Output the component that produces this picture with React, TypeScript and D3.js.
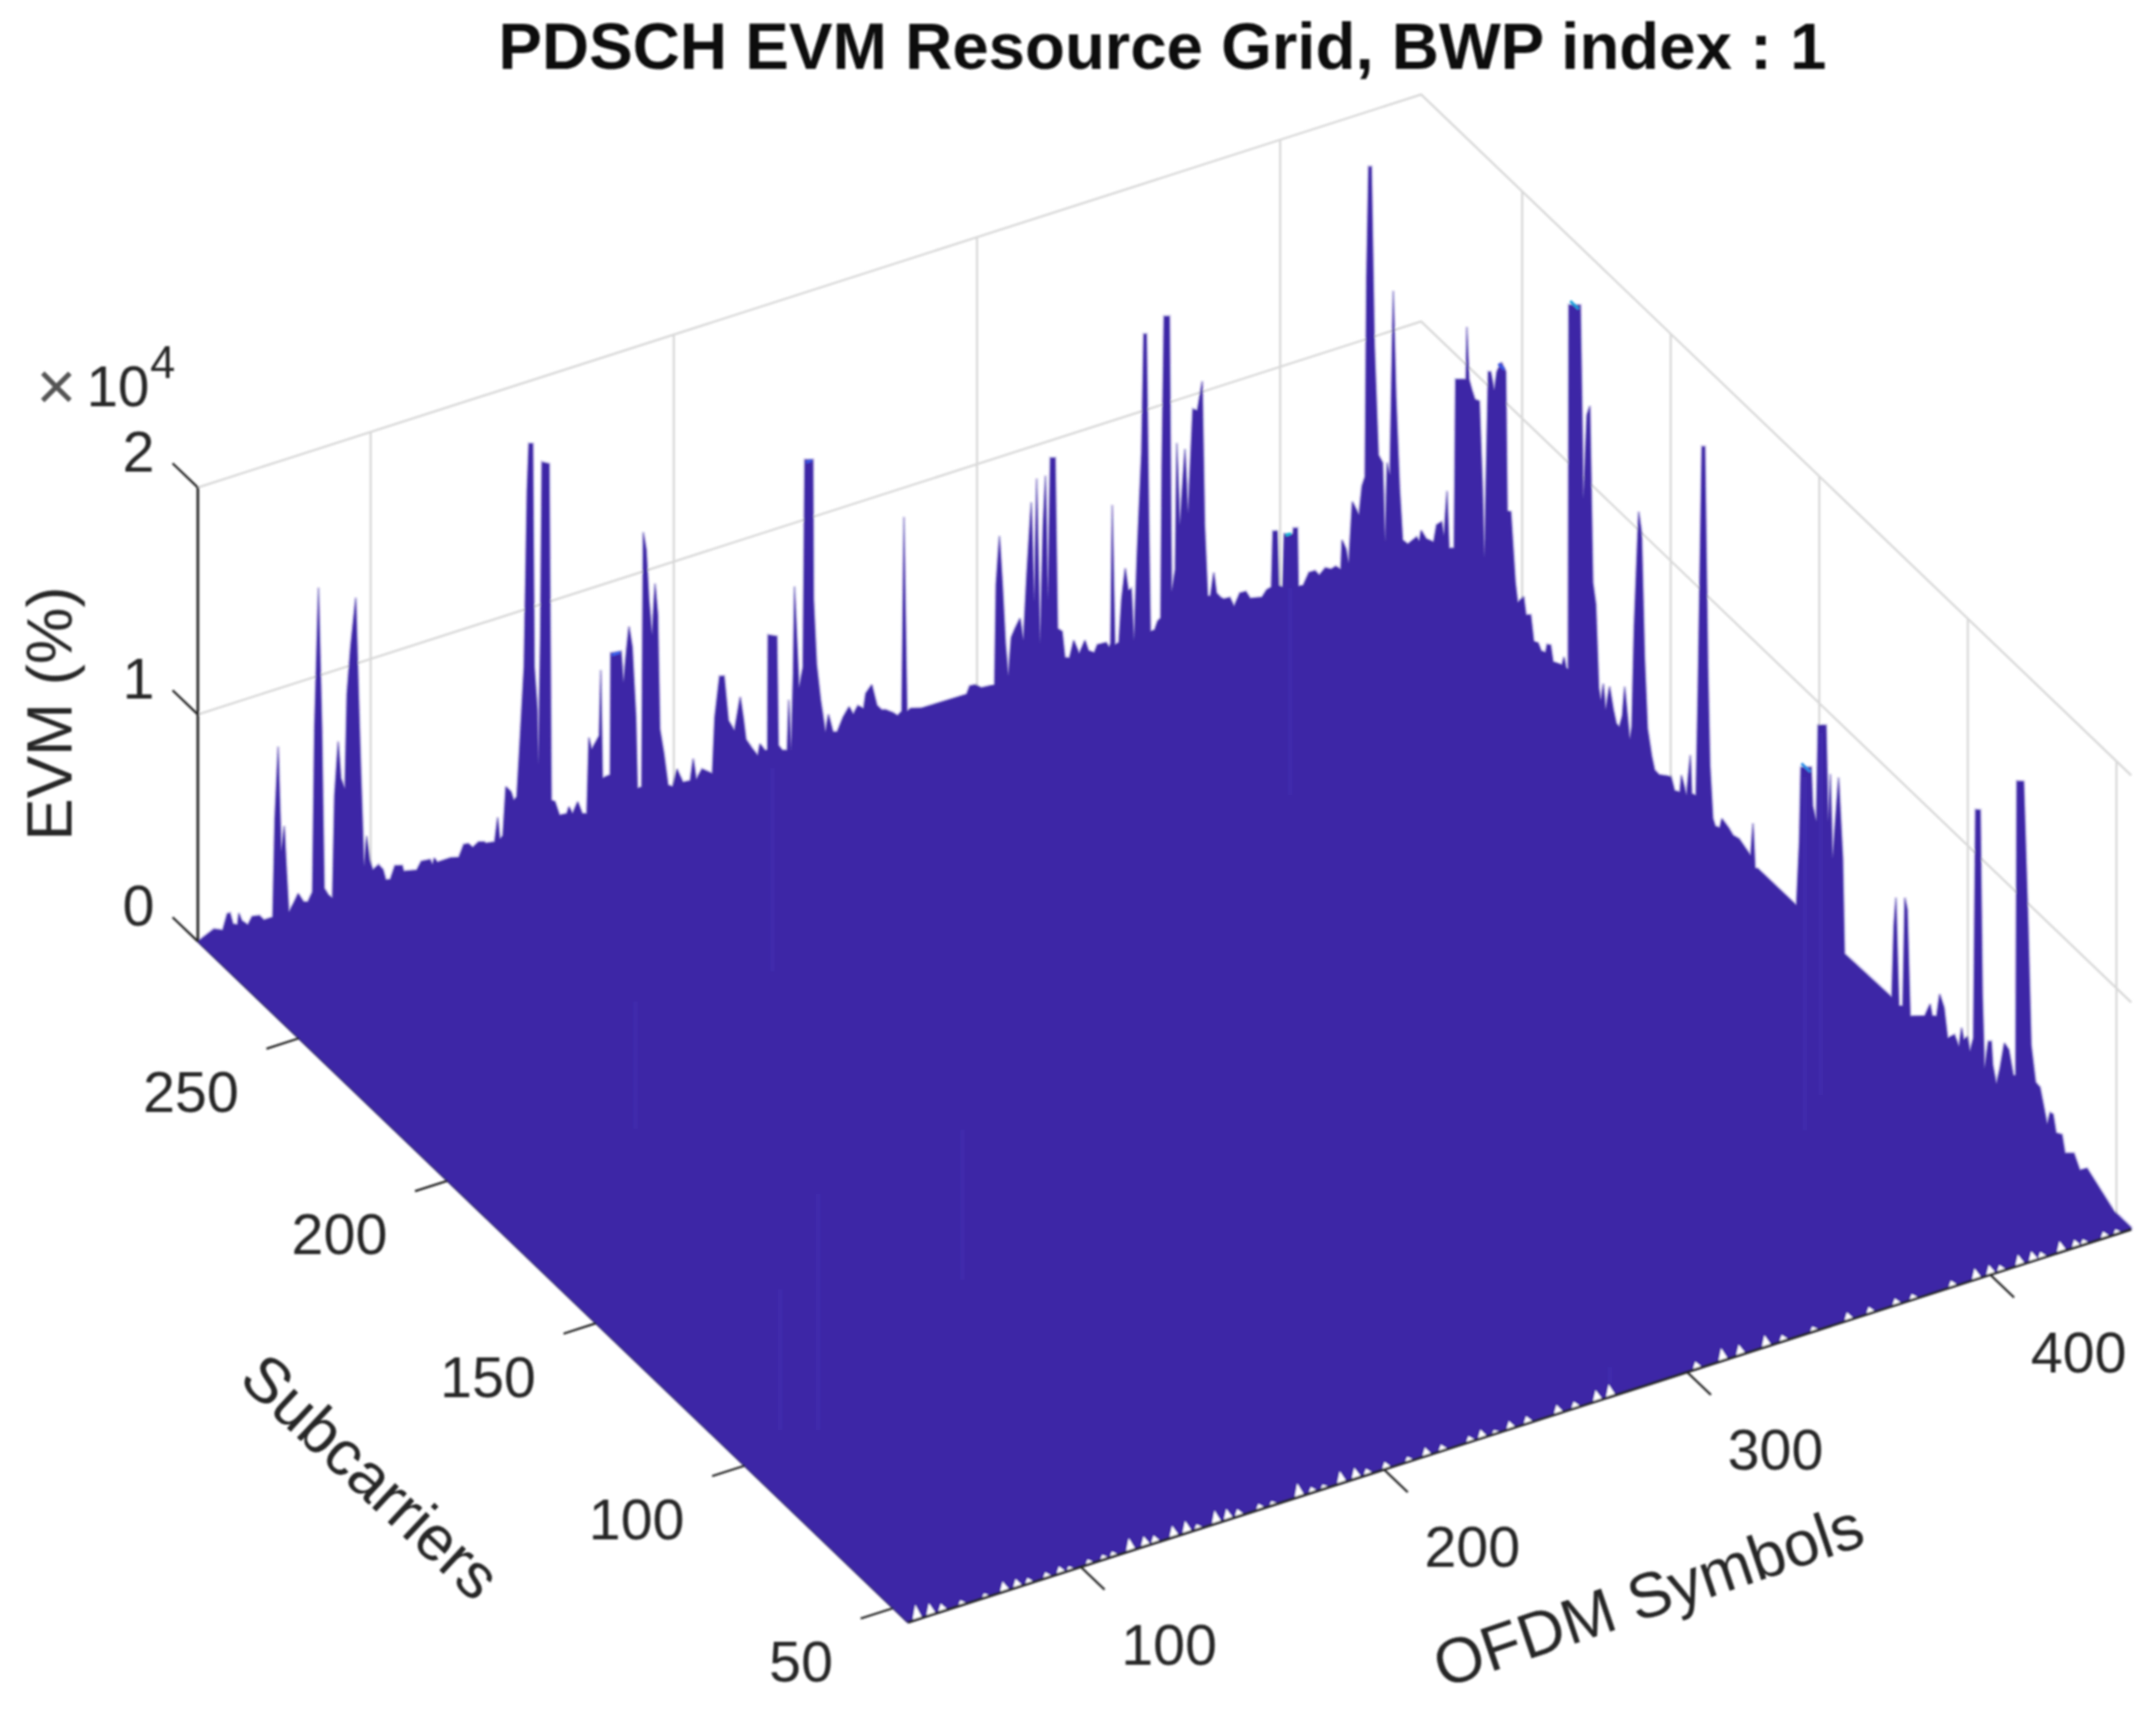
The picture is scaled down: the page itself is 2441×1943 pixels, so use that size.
import React from 'react';
import * as d3 from 'd3';

const width = 2441;
const height = 1943;

// EVM along the back-left edge of the surface (x10^4 %), by OFDM symbol
const ridgeSymbols = [
  43.2, 46.8, 48.3, 51.2, 52.7, 53.6, 54.6, 56.1, 56.5, 57.5, 59.5, 60.9, 63.3, 64.8, 67.7, 68.4, 69.5, 70.5, 71.5, 72.3,
  73, 74.5, 76.1, 77.9, 79.3, 80.8, 81.5, 82.8, 83.9, 84.7, 86.1, 87.4, 88.1, 89.3, 90.2, 91.5, 92.2, 93.4, 95.1, 96,
  96.8, 97.8, 98.7, 99.7, 100.7, 102.6, 104.1, 105, 106.5, 108, 110.4, 110.9, 115.2, 116.7, 119.6, 120.4, 121, 122, 126.4, 129.1,
  130.7, 132.2, 133.7, 135.6, 137.5, 138, 140.9, 141.9, 142.6, 143.6, 144.6, 146.3, 147.2, 148.2, 149, 150.6, 151.6, 152.2, 153.5, 154,
  155, 155.3, 156, 156.5, 158.9, 159.6, 160.8, 162.3, 164.7, 165.4, 166.6, 168.3, 169.8, 171.3, 172, 172.9, 175.4, 175.9, 176.5, 179,
  179.2, 182.6, 183.4, 184.4, 185.2, 186.3, 187.5, 188, 189.4, 189.9, 190.9, 191.8, 192.8, 193.8, 194.7, 195.4, 196.7, 198.1, 199.6, 201,
  203, 205.4, 206.4, 207.4, 209.3, 212.7, 213.5, 215.1, 216.6, 218, 220, 221.9, 222.9, 223.8, 225.8, 227.7, 228.4, 230.1, 230.9, 231.1,
  234, 234.5, 235.8, 237.4, 237.9, 238.7, 239.4, 239.8, 241.3, 242.6, 243.2, 245.9, 246.1, 247.1, 248.4, 250, 251, 252.5, 253.9, 255.8,
  257.8, 259.2, 260.7, 262.6, 263.3, 265.3, 267, 268.5, 269.9, 272.3, 273.8, 275.2, 275.9, 276.9, 278.2, 281.6, 296.6, 297.6, 299.5, 301.4,
  305.8, 306.3, 307.4, 308.4, 309.4, 310.3, 311.3, 312.5, 314.2, 315.3, 316.4, 317.9, 318.9, 319.7, 320.8, 321.8, 322.6, 323.4, 324.2, 325.8,
  326.6, 328.1, 329, 330.5, 331.9, 333.7, 335.6, 336.8, 338.7, 339.7, 342.6, 343.6, 344.1, 344.6, 345.5, 346.8, 347.7, 348.9, 349.9, 350.9,
  351.8, 352.8, 354.3, 355, 355.9, 356.7, 357.2, 358.6, 359.6, 360.6, 361, 361.7, 363.5, 364, 364.2, 365.4, 365.9, 366.9, 368.6, 369.6,
  371.2, 372.7, 374.3, 375.1, 376.1, 377, 378.1, 379, 380.4, 381.4, 383.4, 384.8, 386.7, 388.7, 390.1, 394, 395.5, 397.1, 397.6, 399.1,
  399.6, 400.8, 401.3, 404.2, 404.4, 405.7, 406, 407.6, 409.5, 411.5, 412.9, 414.9, 416.8, 418.3, 420, 420.4, 421.7, 422.6, 423.8, 426,
  427, 428, 428.5, 429.2, 430.1, 431.1, 432.4, 433.8, 434.6, 435.3, 436.2, 437.3, 438.2, 439.4, 440.4, 442.1, 445, 445.9, 446.5,
];
const ridgeEvm = [
  0.001, 0.023, 0.032, 0.014, 0.08, 0.08, 0.027, 0.018, 0.067, 0.029, 0.002, 0.033, 0.027, 0.001, 0.001, 0.43, 0.745, 0.279, 0.387, 0.175,
  0.001, 0.031, 0.069, 0.024, 0.018, 0.056, 0.776, 1.388, 0.765, 0.055, 0.019, 0.001, 0.45, 0.683, 0.515, 0.465, 0.879, 1.082, 1.291, 0.862,
  0.502, 0.096, 0.226, 0.117, 0.068, 0.082, 0.054, 0.005, 0.001, 0.055, 0.045, 0.018, 0.004, 0.037, 0.032, 0.007, 0.033, 0.01, 0.011, 0.001,
  0.051, 0.048, 0.025, 0.041, 0.033, 0.025, 0.019, 0.123, 0.024, 0.034, 0.246, 0.216, 0.175, 0.186, 0.368, 0.749, 1.519, 1.725, 1.719, 0.734,
  0.536, 0.297, 0.845, 1.625, 1.607, 0.122, 0.11, 0.044, 0.041, 0.068, 0.033, 0.078, 0.019, 0.013, 0.345, 0.289, 0.338, 0.626, 0.147, 0.151,
  0.686, 0.679, 0.539, 0.678, 0.778, 0.682, 0.367, 0.053, 0.053, 1.173, 1.091, 0.867, 0.707, 0.93, 0.789, 0.281, 0.171, 0.023, 0.01, 0.082,
  0.015, 0.011, 0.104, 0.009, 0.046, 0.012, 0.255, 0.43, 0.424, 0.223, 0.169, 0.31, 0.215, 0.114, 0.067, 0.026, 0.075, 0.039, 0.038, 0.543,
  0.525, 0.042, 0.015, 0.008, 0.229, 0.005, 0.339, 0.72, 0.266, 0.352, 1.263, 1.252, 0.635, 0.345, 0.184, 0.034, 0.108, 0.024, 0.018, 0.074,
  0.112, 0.073, 0.105, 0.084, 0.147, 0.177, 0.079, 0.053, 0.047, 0.024, 0.005, 0.018, 0.871, 0.011, 0.018, 0.004, 0.001, 0.033, 0.031, 0.009,
  0.004, 0.443, 0.652, 0.433, 0.169, 0.023, 0.188, 0.221, 0.26, 0.158, 0.438, 0.756, 0.311, 0.852, 0.121, 0.636, 0.853, 0.304, 0.924, 0.917,
  0.161, 0.142, 0.024, 0.015, 0.087, 0.021, 0.071, 0.02, 0.003, 0.034, 0.031, 0.007, 0.022, 0.629, 0.009, 0.013, 0.201, 0.332, 0.23, 0.233,
  0.002, 0.374, 0.821, 1.337, 1.333, 0.487, 0.018, 0.018, 0.053, 0.062, 0.727, 1.386, 1.379, 0.456, 0.163, 0.255, 0.811, 0.444, 0.773, 0.484,
  0.937, 0.925, 1.047, 0.408, 0.093, 0.089, 0.188, 0.093, 0.068, 0.057, 0.055, 0.01, 0.06, 0.058, 0.022, 0.01, 0.036, 0.042, 0.286, 0.28,
  0.038, 0.026, 0.258, 0.245, 0.27, 0.265, 0.007, 0.004, 0.053, 0.052, 0.026, 0.05, 0.036, 0.042, 0.022, 0.15, 0.105, 0.037, 0.304, 0.236,
  0.359, 0.396, 1.267, 1.756, 1.752, 0.956, 0.472, 0.432, 0.081, 0.426, 0.367, 1.175, 0.707, 0.292, 0.063, 0.038, 0.057, 0.035, 0.08,
];

// EVM along the back-right edge of the surface, by subcarrier
const sideSubcarriers = [
  282.3, 279.8, 278.8, 277.1, 276.3, 275.3, 274.6, 272.9, 272.4, 268.9, 268.6, 267.9, 266.9, 265.9, 264.4, 263.4, 262.7, 261.4, 260.6, 259.4,
  258.5, 257, 255.5, 255, 253.8, 252.3, 251.5, 249.5, 248.7, 247.1, 246.1, 244.6, 243.6, 242.1, 241.6, 240.4, 239.6, 236.6, 235.9, 235.2,
  234.5, 234.3, 230.4, 229.4, 228.2, 227.2, 226.2, 225.2, 224.2, 223.5, 222.7, 221.9, 220.6, 219.3, 218.3, 217.3, 216.3, 215.5, 213.8, 213.1,
  212.3, 210.8, 209.8, 208.8, 207.8, 206.4, 205.4, 203.9, 199.9, 198.7, 196.9, 196.4, 194.7, 193.4, 192.9, 191.5, 190.8, 189.5, 188.5, 187.5,
  186.8, 185.8, 185, 183.5, 182.8, 180.5, 179, 177, 173.1, 172.3, 171.6, 170.6, 157.7, 156.7, 156.2, 152.7, 152.2, 151, 150.4, 147.7,
  147, 146.3, 145.5, 143.5, 142.1, 141.5, 125.6, 124.9, 124.2, 123.2, 121.9, 121.2, 120.4, 119.4, 114.5, 112.7, 112, 110.5, 109.5, 108,
  106.8, 104.5, 103, 102.1, 101.4, 100.1, 99.3, 98.1, 97.4, 95.8, 95.1, 94.4, 93.1, 92.1, 91.6, 90.4, 89.2, 87.7, 86.2, 84.7,
  83.9, 83.5, 81.2, 79.7, 78.7, 77.2, 75.7, 74.3, 73.3, 72.3, 71.3, 70.3, 68.3, 67.3, 64.3, 62.3, 59.9, 50.9, 45,
];
const sideEvm = [
  0.064, 0.081, 0.169, 0.204, 0.152, 0.363, 0.119, 0.141, 0.891, 0.935, 1.17, 0.947, 0.912, 0.884, 0.895, 0.546, 0.227, 1.062, 1.072, 1.005,
  1.099, 1.159, 1.137, 0.529, 0.541, 0.249, 0.17, 0.222, 0.15, 0.17, 0.067, 0.078, 0.056, 0.068, 0.109, 0.121, 0.058, 0.082, 0.126, 0.087,
  0.089, 1.697, 1.745, 0.904, 1.288, 1.341, 0.576, 0.491, 0.135, 0.089, 0.174, 0.068, 0.188, 0.102, 0.053, 0.051, 0.112, 0.251, 0.04, 0.104,
  0.557, 1.081, 0.998, 0.464, 0.163, 0.059, 0.01, 0.008, 0.051, 0.004, 0.02, 0.101, 0.033, 0.227, 0.063, 0.074, 0.554, 1.635, 1.647, 0.691,
  0.263, 0.043, 0.019, 0.031, 0.08, 0.068, 0.053, 0.064, 0.039, 0.192, 0.003, 0.012, 0.013, 0.307, 0.64, 0.684, 0.519, 0.467, 0.899, 0.932,
  0.517, 0.735, 0.373, 0.755, 0.415, 0.003, 0.011, 0.332, 0.468, 0.004, 0.019, 0.505, 0.463, 0.006, 0.068, 0.143, 0.1, 0.118, 0.227, 0.186,
  0.067, 0.111, 0.077, 0.172, 0.128, 0.159, 0.102, 0.177, 1.191, 1.21, 0.407, 0.088, 0.224, 0.237, 0.139, 0.071, 0.154, 0.285, 0.274, 0.181,
  0.191, 1.491, 1.519, 0.898, 0.389, 0.244, 0.24, 0.162, 0.108, 0.172, 0.177, 0.108, 0.125, 0.056, 0.093, 0.044, 0.082, 0.008, 0.008,
];

// small lifts of the surface at the front edge (the white teeth above the axis)
const notchSymbols = [
  45.9, 50.4, 54.3, 60.8, 68.6, 74.7, 79, 82.9, 88.8, 93.3, 96.5, 102.8, 107.6, 110.8, 116.3, 121.2, 124.5, 130.6, 134.9, 138.7,
  144.6, 148.5, 152.1, 159.1, 163.4, 171.9, 176.4, 180.3, 185.9, 190.7, 194.6, 200.7, 208.2, 214, 219.3, 228.4, 232.3, 236.8, 241.7, 247.4,
  257.4, 263.1, 270.3, 274.6, 303.2, 311.7, 317.5, 326, 331.7, 341.8, 353.2, 360.4, 369, 374.6, 387.5, 395.3, 400, 403.5, 409.6, 414,
  417, 423.3, 428.2, 431, 437.7, 441.8,
];
const notchEvm = [
  0.058, 0.045, 0.026, 0.013, 0.01, 0.036, 0.029, 0.016, 0.016, 0.023, 0.01, 0.013, 0.013, 0.013, 0.049, 0.036, 0.026, 0.042, 0.045, 0.013,
  0.049, 0.039, 0.023, 0.016, 0.01, 0.052, 0.016, 0.01, 0.045, 0.039, 0.019, 0.023, 0.013, 0.029, 0.019, 0.018, 0.029, 0.008, 0.027, 0.024,
  0.03, 0.02, 0.04, 0.047, 0.024, 0.047, 0.038, 0.043, 0.02, 0.013, 0.027, 0.02, 0.02, 0.016, 0.02, 0.04, 0.035, 0.02, 0.04, 0.035,
  0.02, 0.04, 0.025, 0.015, 0.02, 0.012,
];

// faint lighter streaks inside the surface
const streakSymbols = [70.4, 61, 144.8, 102.9, 278.1, 350.7, 391.4, 404.4, 177.3];
const streakSubcarriers = [103.2, 106.4, 130.5, 197.8, 48.6, 230.3, 98.6, 106.5, 227.6];
const streakEvm = [1.04, 0.62, 0.66, 0.56, 0.07, 0.91, 1.556, 1.595, 0.895];

// flat peak tops which reach higher on the colormap
const ridgeTipStart = [179.6, 243.6, 401.8];
const ridgeTipEnd = [182.2, 245.5, 403.6];
const ridgeTipEvm = [0.676, 1.25, 0.25];
const ridgeTipColors = ['#3a62ee', '#3a55e4', '#14bcd8'];
const sideTipStart = [233.8, 156, 258];
const sideTipEnd = [231, 153, 256];
const sideTipEvm = [1.72, 0.66, 1.14];
const sideTipColors = ['#1f9fdc', '#2f8ee8', '#3a55e4'];

const xTicks = [100, 200, 300, 400];
const yTicks = [50, 100, 150, 200, 250];
const zTicks = [0, 1, 2];
const zGrid = [1, 2];

const xDomain: [number, number] = [43, 446.5];
const yDomain: [number, number] = [45, 284];
const zMax = 2;

const SURFACE = '#3d27a6';
const GRID = '#d9d9d9';
const INK = '#262626';
const FONT = '"Liberation Sans", Arial, sans-serif';

// axes box corners on the page
const nearCorner = { x: 1028, y: 1837 };
const rightCorner = { x: 2413, y: 1392 };
const leftCorner = { x: 224, y: 1066 };

const xFrac = d3.scaleLinear().domain(xDomain).range([0, 1]);
const yFrac = d3.scaleLinear().domain(yDomain).range([0, 1]);
const zPx = d3.scaleLinear().domain([0, zMax]).range([0, 514]);

const project = (sym: number, sub: number, evm: number): [number, number] => {
  const fx = xFrac(sym);
  const fy = yFrac(sub);
  return [
    nearCorner.x + fx * (rightCorner.x - nearCorner.x) + fy * (leftCorner.x - nearCorner.x),
    nearCorner.y + fx * (rightCorner.y - nearCorner.y) + fy * (leftCorner.y - nearCorner.y) - zPx(evm),
  ];
};

const line = d3.line();
const seg = (a: [number, number], b: [number, number]) => line([a, b]) as string;

const surfacePoints = (): [number, number][] => {
  const pts: [number, number][] = [project(xDomain[0], yDomain[1], 0)];
  ridgeSymbols.forEach((s, i) => pts.push(project(s, yDomain[1], ridgeEvm[i])));
  sideSubcarriers.forEach((y, i) => pts.push(project(xDomain[1], y, sideEvm[i])));
  pts.push(project(xDomain[1], yDomain[0], 0));
  pts.push(project(xDomain[0], yDomain[0], 0));
  return pts;
};

const App = () => {
  const xMin = xDomain[0];
  const xMax = xDomain[1];
  const yMin = yDomain[0];
  const yMax = yDomain[1];
  const gridStyle = { stroke: GRID, strokeWidth: 2.5, fill: 'none' };
  const tickStyle = { stroke: INK, strokeWidth: 2.5, fill: 'none' };
  const tickText = { fontFamily: FONT, fontSize: 65, fill: INK, dominantBaseline: 'central' as const };
  const surfacePath = (line(surfacePoints()) as string) + 'Z';

  return (
    <svg width={width} height={height} viewBox={`0 0 ${width} ${height}`}
      style={{ position: 'absolute', left: 0, top: 0, background: 'white', display: 'block' }}>
      <defs>
        <filter id="soft" filterUnits="userSpaceOnUse" x="0" y="0" width={width} height={height}>
          <feGaussianBlur stdDeviation="0.8" />
        </filter>
      </defs>

      <g filter="url(#soft)">
        <text x={1316} y={78} textAnchor="middle" fontFamily={FONT} fontWeight="bold" fontSize={74} fill="#111">
          PDSCH EVM Resource Grid, BWP index : 1
        </text>

        {/* walls */}
        {zGrid.map(z => (
          <path key={`l${z}`} d={line([project(xMin, yMax, z), project(xMax, yMax, z), project(xMax, yMin, z)]) as string} {...gridStyle} />
        ))}
        {xTicks.map(t => <path key={`vx${t}`} d={seg(project(t, yMax, 0), project(t, yMax, zMax))} {...gridStyle} />)}
        {yTicks.map(t => <path key={`vy${t}`} d={seg(project(xMax, t, 0), project(xMax, t, zMax))} {...gridStyle} />)}

        {/* y axis sits just under the surface */}
        <path d={seg(project(xMin, yMin, 0), project(xMin, yMax, 0))} stroke={INK} strokeWidth={2} />

        <path d={surfacePath} fill={SURFACE} stroke={SURFACE} strokeOpacity={0.3} strokeWidth={3} strokeLinejoin="miter" strokeMiterlimit={2} />
        {streakSymbols.map((s, i) => (
          <path key={`st${i}`} d={seg(project(s, streakSubcarriers[i], 0), project(s, streakSubcarriers[i], streakEvm[i]))}
            stroke="#4433b6" strokeWidth={5} strokeOpacity={0.4} />
        ))}
        {ridgeTipStart.map((s, i) => (
          <path key={`rt${i}`} d={seg(project(s, yMax, ridgeTipEvm[i]), project(ridgeTipEnd[i], yMax, ridgeTipEvm[i]))}
            stroke={ridgeTipColors[i]} strokeWidth={3} />
        ))}
        {sideTipStart.map((s, i) => (
          <path key={`tt${i}`} d={seg(project(xMax, s, sideTipEvm[i]), project(xMax, sideTipEnd[i], sideTipEvm[i]))}
            stroke={sideTipColors[i]} strokeWidth={3} />
        ))}

        {/* teeth along the front edge */}
        {notchSymbols.map((s, i) => (
          <path key={`n${i}`} fill="white" d={(line([
            project(s - 1.4, yMin, 0),
            project(s - 0.5, yMin, notchEvm[i] + 0.01),
            project(s + 1.8, yMin, 0),
          ]) as string) + 'Z'} />
        ))}

        {/* axes */}
        <path d={seg(project(xMin, yMin, 0), project(xMax, yMin, 0))} stroke={INK} strokeWidth={3} />
        <path d={seg(project(xMin, yMax, 0), project(xMin, yMax, zMax))} stroke={INK} strokeWidth={3} />

        {xTicks.map(t => {
          const p = project(t, yMin, 0);
          return (
            <g key={`xt${t}`}>
              <path d={seg(p, project(t, yMin - 8, 0))} {...tickStyle} />
              <text x={p[0] + 100} y={p[1] + 88} textAnchor="middle" {...tickText}>{t}</text>
            </g>
          );
        })}
        {yTicks.map(t => {
          const p = project(xMin, t, 0);
          return (
            <g key={`yt${t}`}>
              <path d={seg(p, project(xMin - 10.7, t, 0))} {...tickStyle} />
              <text x={p[0] - 68} y={p[1] + 61} textAnchor="end" {...tickText}>{t}</text>
            </g>
          );
        })}
        {zTicks.map(t => {
          const p = project(xMin, yMax, t);
          return (
            <g key={`zt${t}`}>
              <path d={seg(p, project(xMin, yMax + 8.5, t))} {...tickStyle} />
              <text x={p[0] - 49} y={p[1] - 41} textAnchor="end" {...tickText}>{t}</text>
            </g>
          );
        })}

        {/* exponent */}
        <text x={41} y={464} fontFamily={FONT} fontSize={78} fill="#555">×</text>
        <text x={98} y={460} fontFamily={FONT} fontSize={64} fill={INK}>10</text>
        <text x={170} y={428} fontFamily={FONT} fontSize={51} fill={INK}>4</text>

        {/* axis titles */}
        <text transform="translate(81,808) rotate(-90)" textAnchor="middle" fontFamily={FONT} fontSize={72} fill={INK}>EVM (%)</text>
        <text transform="translate(403,1690) rotate(43)" textAnchor="middle" fontFamily={FONT} fontSize={72} fill={INK}>Subcarriers</text>
        <text transform="translate(1874,1830) rotate(-18.8)" textAnchor="middle" fontFamily={FONT} fontSize={72} fill={INK}>OFDM Symbols</text>
      </g>
    </svg>
  );
};

export default App;
